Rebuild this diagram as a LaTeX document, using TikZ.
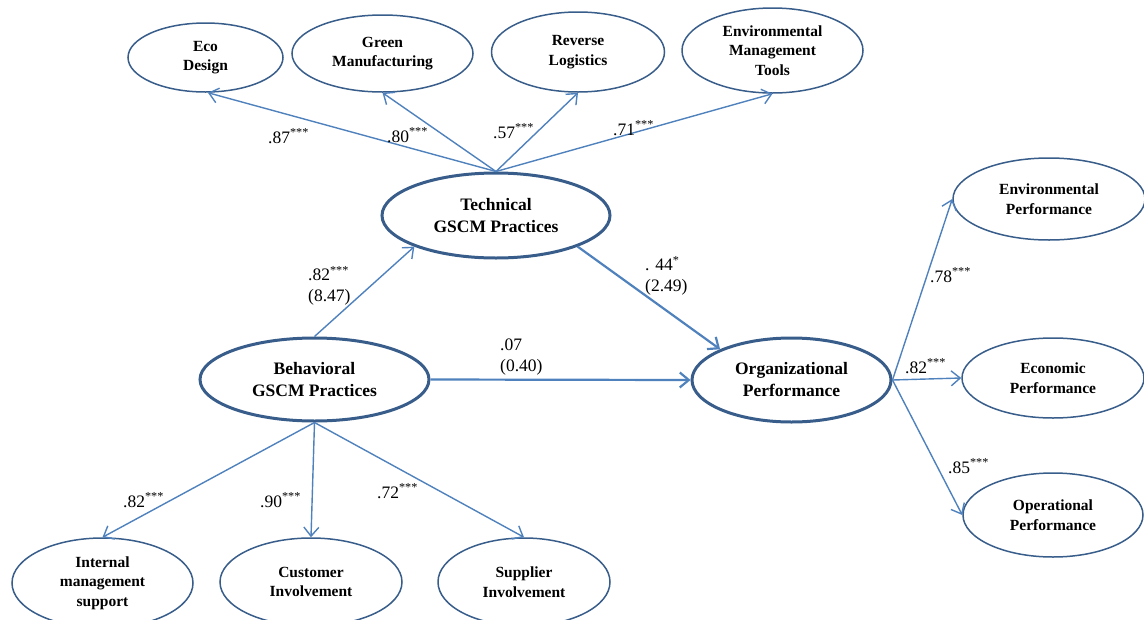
\documentclass[tikz,border=0pt]{standalone}
\usepackage{fontspec}
\setmainfont{Liberation Serif}
\usepackage{tikz}
\usetikzlibrary{shapes.geometric,arrows.meta}
\definecolor{rimblue}{RGB}{56,93,138}
\definecolor{lineblue}{RGB}{79,129,189}
\tikzstyle{item} = [ellipse, draw=rimblue, line width=1.5pt, inner sep=0pt, align=center, font=\fontsize{15.5}{19.5}\selectfont\bfseries]
\tikzstyle{construct} = [ellipse, draw=rimblue, line width=3pt, inner sep=0pt, align=center, font=\fontsize{17.5}{22}\selectfont\bfseries]
\tikzstyle{arrow} = [draw=lineblue, line width=1.4pt, -{Straight Barb[length=9pt,width=15pt]}]
\tikzstyle{mainarrow} = [arrow, line width=2.2pt]
\tikzstyle{coef} = [inner sep=0pt, align=left, font=\fontsize{17.5}{21}\selectfont]

\begin{document}
\begin{tikzpicture}[x=1pt,y=-1pt]
\useasboundingbox (0,0) rectangle (1144,619);

% constructs
\node (tech) [construct, minimum width=228, minimum height=85] at (496,215.5) {Technical\\GSCM Practices};
\node (beh) [construct, minimum width=229, minimum height=83] at (314.5,379.5) {Behavioral\\GSCM Practices};
\node (org) [construct, minimum width=199, minimum height=84] at (791.5,380) {Organizational\\Performance};

% technical items
\node (eco) [item, minimum width=155, minimum height=69] at (205.5,57.5) {Eco\\Design};
\node (green) [item, minimum width=181, minimum height=77] at (382.5,53.5) {Green\\Manufacturing};
\node (rev) [item, minimum width=173, minimum height=80] at (578,52) {Reverse\\Logistics};
\node (emt) [item, minimum width=181, minimum height=85] at (772.5,50.5) {Environmental\\Management\\Tools};

% behavioral items
\node (ims) [item, minimum width=181, minimum height=90] at (102.5,583) {Internal\\management\\support};
\node (cust) [item, minimum width=182, minimum height=88] at (311,582) {Customer\\Involvement};
\node (supp) [item, minimum width=172, minimum height=88] at (524,582) {Supplier\\Involvement};

% performance items
\node (env) [item, minimum width=192, minimum height=82] at (1049,199) {Environmental\\Performance};
\node (econ) [item, minimum width=182, minimum height=80] at (1053,378) {Economic\\Performance};
\node (oper) [item, minimum width=180, minimum height=84] at (1053,515) {Operational\\Performance};

% loadings
\draw [arrow] (tech.north) -- (eco.274);
\draw [arrow] (tech.north) -- (green.south);
\draw [arrow] (tech.north) -- (rev.south);
\draw [arrow] (tech.north) -- (emt.south);
\draw [arrow] (beh.south) -- (ims.north);
\draw [arrow] (beh.south) -- (cust.north);
\draw [arrow] (beh.south) -- (supp.north);
\draw [arrow] (org.east) -- (env.west);
\draw [arrow] (org.east) -- (econ.west);
\draw [arrow] (org.east) -- (oper.west);

% paths
\draw [arrow] (beh.north) -- (tech.south west);
\draw [mainarrow] (tech.south east) -- (org.north west);
\draw [mainarrow] (beh.east) -- (org.west);

\node (l87) [coef, anchor=base west] at (268,143) {.87\textsuperscript{***}};
\node (l80) [coef, anchor=base west] at (387,142) {.80\textsuperscript{***}};
\node (l57) [coef, anchor=base west] at (493,138) {.57\textsuperscript{***}};
\node (l71) [coef, anchor=base west] at (613,135) {.71\textsuperscript{***}};
\node (lbt) [coef, anchor=west] at (308,286) {.82\textsuperscript{***}\\(8.47)};
\node (lto) [coef, anchor=west] at (645,276) {. 44\textsuperscript{*}\\(2.49)};
\node (lbo) [coef, anchor=west] at (500,357) {.07\\(0.40)};
\node (l78) [coef, anchor=base west] at (930,282) {.78\textsuperscript{***}};
\node (l82r) [coef, anchor=base west] at (905,373) {.82\textsuperscript{***}};
\node (l85) [coef, anchor=base west] at (948,473) {.85\textsuperscript{***}};
\node (l82b) [coef, anchor=base west] at (123,507) {.82\textsuperscript{***}};
\node (l90) [coef, anchor=base west] at (260,507) {.90\textsuperscript{***}};
\node (l72) [coef, anchor=base west] at (377,498) {.72\textsuperscript{***}};

\end{tikzpicture}
\end{document}
